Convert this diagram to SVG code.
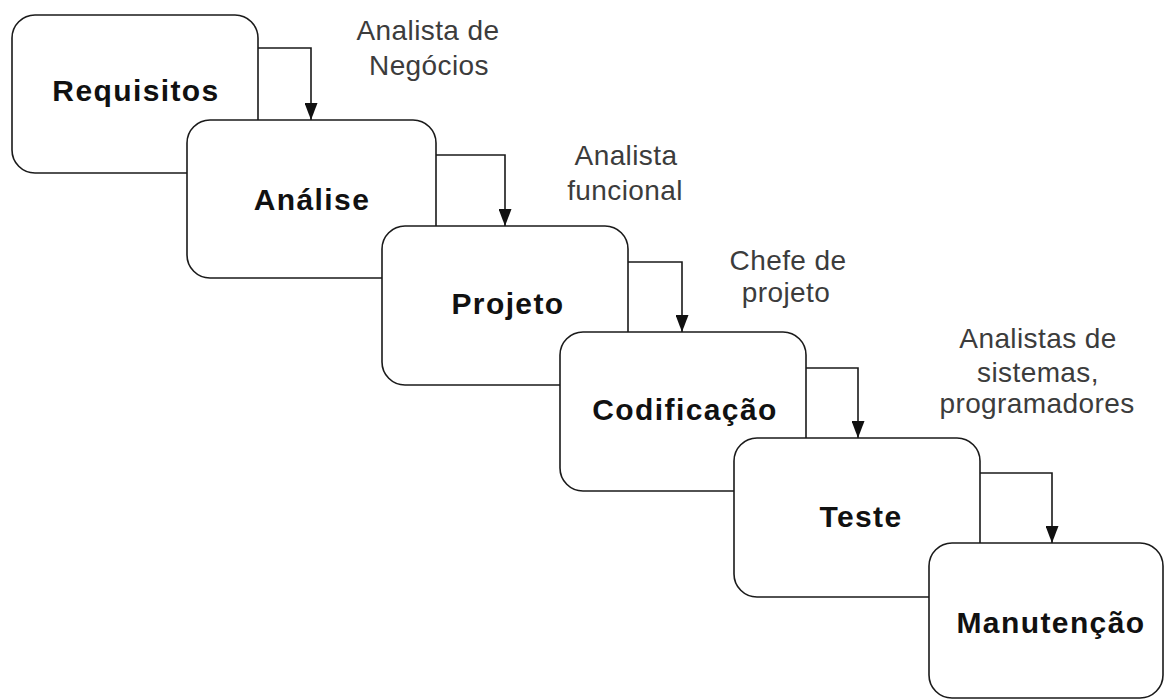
<svg xmlns="http://www.w3.org/2000/svg" width="1165" height="699" viewBox="0 0 1165 699">
<style>
.box{fill:#fff;stroke:#1a1a1a;stroke-width:1.6}
.t{font-family:"Liberation Sans",Arial,sans-serif;font-weight:bold;font-size:30px;letter-spacing:1.4px;fill:#111;text-anchor:middle}
.lbl{font-family:"Liberation Sans",Arial,sans-serif;font-size:28px;letter-spacing:0.4px;fill:#3c3c3c;text-anchor:middle}
.c{fill:none;stroke:#1a1a1a;stroke-width:1.6}
</style>
<defs>
<marker id="ah" viewBox="0 0 17 13" refX="17" refY="6.5" markerWidth="17" markerHeight="13" markerUnits="userSpaceOnUse" orient="auto">
<path d="M0,0 L17,6.5 L0,13 z" fill="#111"/>
</marker>
</defs>
<rect width="1165" height="699" fill="#fff"/>
<g id="n1"><rect class="box" x="12" y="15" width="246" height="158" rx="23" ry="23"/><text class="t" x="136" y="101">Requisitos</text></g>
<g id="n2"><rect class="box" x="187" y="120" width="249" height="158" rx="23" ry="23"/><text class="t" x="312" y="210">Análise</text></g>
<g id="n3"><rect class="box" x="382" y="226" width="246" height="159" rx="23" ry="23"/><text class="t" x="508" y="314">Projeto</text></g>
<g id="n4"><rect class="box" x="560" y="332" width="246" height="159" rx="23" ry="23"/><text class="t" x="685" y="420">Codificação</text></g>
<g id="n5"><rect class="box" x="734" y="438" width="246" height="159" rx="23" ry="23"/><text class="t" x="861" y="527">Teste</text></g>
<g id="n6"><rect class="box" x="929" y="543" width="234" height="155" rx="23" ry="23"/><text class="t" x="1051" y="633">Manutenção</text></g>
<g id="connectors">
<path class="c" d="M258,48 H311 V120" marker-end="url(#ah)"/>
<path class="c" d="M436,155 H505 V226" marker-end="url(#ah)"/>
<path class="c" d="M628,262 H682 V332" marker-end="url(#ah)"/>
<path class="c" d="M806,368 H858 V438" marker-end="url(#ah)"/>
<path class="c" d="M980,473 H1052 V543" marker-end="url(#ah)"/>
</g>
<g id="labels">
<text class="lbl" x="428" y="40">Analista de</text>
<text class="lbl" x="429" y="75">Negócios</text>
<text class="lbl" x="626" y="165">Analista</text>
<text class="lbl" x="625" y="200">funcional</text>
<text class="lbl" x="788" y="270">Chefe de</text>
<text class="lbl" x="786" y="302">projeto</text>
<text class="lbl" x="1038" y="348">Analistas de</text>
<text class="lbl" x="1038" y="382">sistemas,</text>
<text class="lbl" x="1037" y="413">programadores</text>
</g>
</svg>
